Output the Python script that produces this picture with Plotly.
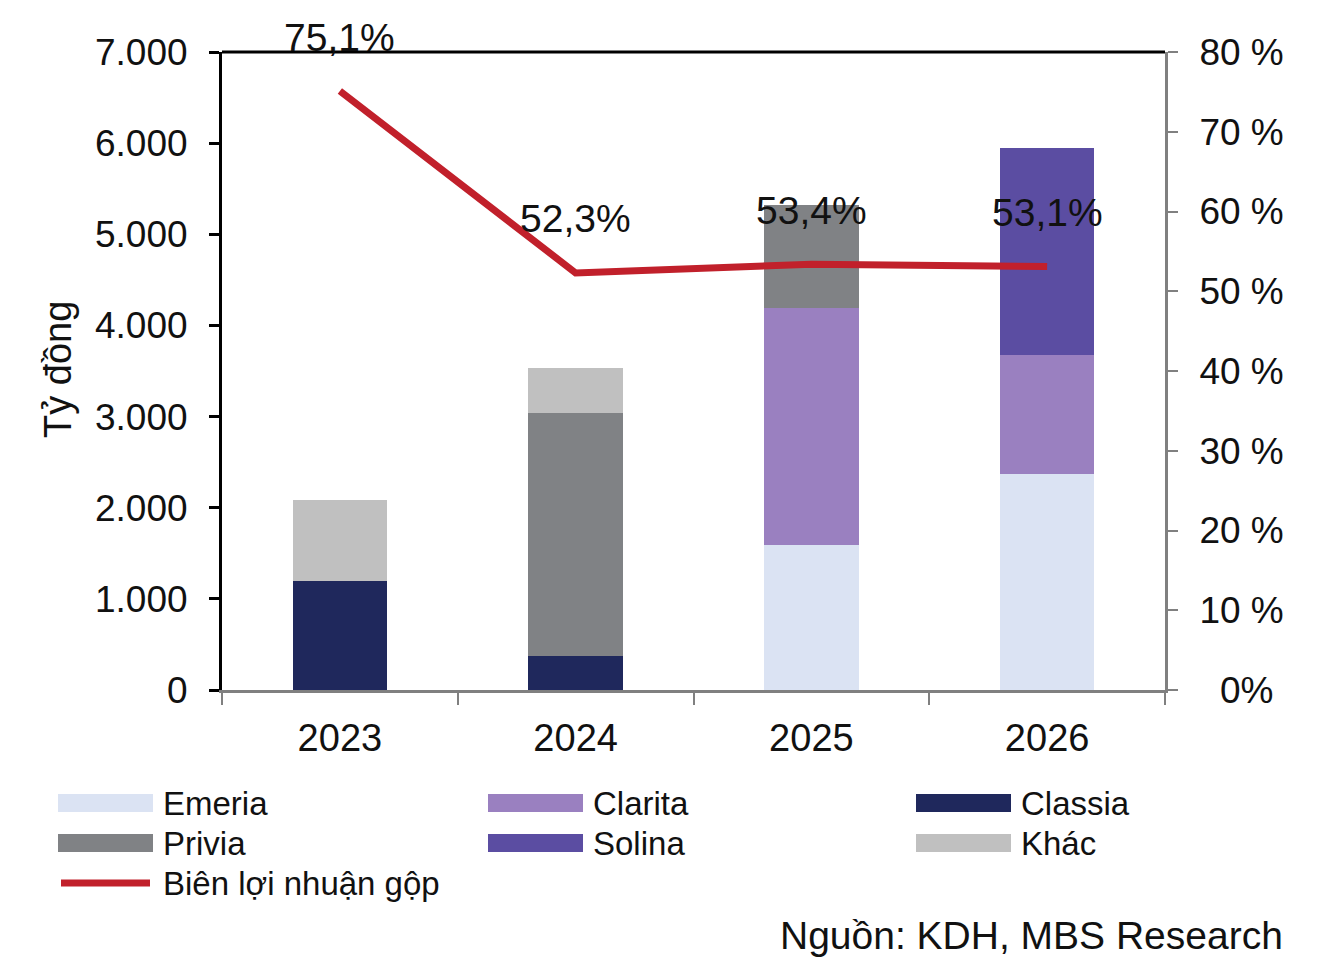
import plotly.graph_objects as go

years = ["2023", "2024", "2025", "2026"]
emeria = [None, None, 1590, 2370]
clarita = [None, None, 2600, 1310]
classia = [1200, 370, None, None]
privia = [None, 2670, 1130, None]
solina = [None, None, None, 2270]
khac = [890, 490, None, None]
margin_pct = [75.1, 52.3, 53.4, 53.1]

left_ticks = [0, 1000, 2000, 3000, 4000, 5000, 6000, 7000]
left_ticktext = ["0", "1.000", "2.000", "3.000", "4.000", "5.000", "6.000", "7.000"]
right_ticks = [0, 10, 20, 30, 40, 50, 60, 70, 80]
right_ticktext = ["\u00a0\u00a00%", "10 %", "20 %", "30 %", "40 %", "50 %", "60 %", "70 %", "80 %"]

series = [
    ("Emeria", emeria, "#dbe3f3"),
    ("Clarita", clarita, "#9a80c0"),
    ("Classia", classia, "#1f285c"),
    ("Privia", privia, "#808285"),
    ("Solina", solina, "#5b4da2"),
    ("Khác", khac, "#c0c0c0"),
]
line_name = "Biên lợi nhuận gộp"
line_color = "#c1202b"

FONT = "Liberation Sans, Arial, sans-serif"
W, H = 1321, 966
L, R, T, B = 222, 1165, 52, 690

def px(x):
    return (x - L) / (R - L)

def py(y):
    return (B - y) / (B - T)

fig = go.Figure()
for name, vals, col in series:
    fig.add_trace(go.Bar(x=years, y=vals, name=name, marker=dict(color=col, line=dict(width=0)),
                         showlegend=False))
fig.add_trace(go.Scatter(x=years, y=margin_pct, yaxis="y2", mode="lines", name=line_name,
                         line=dict(color=line_color, width=7), showlegend=False))

annotations = []
for i, v in enumerate(margin_pct):
    annotations.append(dict(x=i, y=v, yref="y2", xref="x", text=f"{v:.1f}".replace(".", ",") + "%",
                            showarrow=False, yshift=54, font=dict(size=39, color="#111", family=FONT)))

# manual legend
legend_items = [
    ("Emeria", "#dbe3f3", 58, 803), ("Clarita", "#9a80c0", 488, 803), ("Classia", "#1f285c", 916, 803),
    ("Privia", "#808285", 58, 843), ("Solina", "#5b4da2", 488, 843), ("Khác", "#c0c0c0", 916, 843),
]
shapes = []
for name, col, x0, yc in legend_items:
    shapes.append(dict(type="rect", xref="paper", yref="paper", x0=px(x0), x1=px(x0 + 95),
                       y0=py(yc + 9), y1=py(yc - 9), fillcolor=col, line=dict(width=0)))
    annotations.append(dict(xref="paper", yref="paper", x=px(x0 + 103), y=py(yc), text=name,
                            xanchor="left", yanchor="middle", showarrow=False,
                            font=dict(size=33, color="#111", family=FONT)))
shapes.append(dict(type="line", xref="paper", yref="paper", x0=px(61), x1=px(150), y0=py(883), y1=py(883),
                   line=dict(color=line_color, width=7)))
annotations.append(dict(xref="paper", yref="paper", x=px(161), y=py(883), text=line_name,
                        xanchor="left", yanchor="middle", showarrow=False,
                        font=dict(size=33, color="#111", family=FONT)))
# top border
shapes.append(dict(type="line", xref="paper", yref="paper", x0=0, x1=1, y0=1, y1=1,
                   line=dict(color="#000", width=3)))
# source
annotations.append(dict(xref="paper", yref="paper", x=px(1285), y=py(935), text="Nguồn: KDH, MBS Research",
                        xanchor="right", yanchor="middle", showarrow=False,
                        font=dict(size=39, color="#111", family=FONT)))
# y title
annotations.append(dict(xref="paper", yref="paper", x=px(58), y=py(370), text="Tỷ đồng", textangle=-90,
                        xanchor="center", yanchor="middle", showarrow=False,
                        font=dict(size=38, color="#111", family=FONT)))

fig.update_layout(
    width=W, height=H,
    margin=dict(l=L, r=W - R, t=T, b=H - B, autoexpand=False),
    paper_bgcolor="white", plot_bgcolor="white",
    barmode="stack", bargap=0.6,
    font=dict(family=FONT, size=37, color="#111"),
    xaxis=dict(type="category", range=[-0.5, 3.5], showgrid=False, showline=True, linecolor="#808080",
               linewidth=3, ticks="outside", tickson="boundaries", ticklen=12, tickwidth=2,
               tickcolor="#808080", tickfont=dict(size=38), ticklabelstandoff=12),
    yaxis=dict(range=[0, 7000], tickvals=left_ticks, ticktext=left_ticktext, showgrid=False, zeroline=False,
               showline=True, linecolor="#000", linewidth=3, ticks="outside", ticklen=10, tickwidth=3,
               tickcolor="#000", tickfont=dict(size=37), ticklabelstandoff=14),
    yaxis2=dict(range=[0, 80], overlaying="y", side="right", tickvals=right_ticks, ticktext=right_ticktext,
                showgrid=False, zeroline=False, showline=True, linecolor="#808080", linewidth=3,
                ticks="outside", ticklen=10, tickwidth=2, tickcolor="#808080", tickfont=dict(size=37),
                ticklabelstandoff=14),
    shapes=shapes, annotations=annotations,
)
fig.write_html("out.html")
